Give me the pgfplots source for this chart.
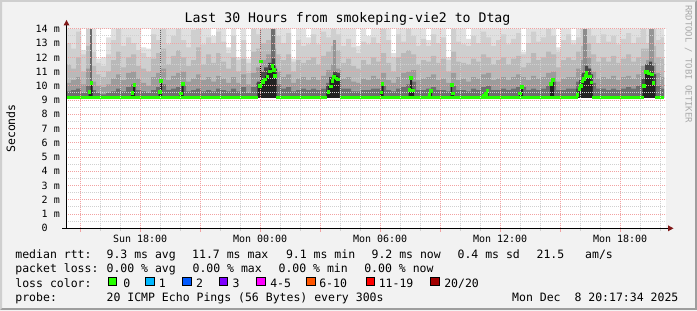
\documentclass[border=0pt]{standalone}
\usepackage{fontspec}
\usepackage{pgfplots}
\usepackage{pgfplotstable}
\pgfplotsset{compat=1.18}
\newfontfamily\monof{DejaVu Sans Mono}
\newcommand\fLeg{\monof\fontsize{11.5bp}{13bp}\selectfont}
\newcommand\fTick{\monof\fontsize{10bp}{12bp}\selectfont}
\newcommand\fTitle{\monof\fontsize{13.2bp}{15bp}\selectfont}
\newcommand\fSmall{\monof\fontsize{8.9bp}{10bp}\selectfont}

\definecolor{bgc}{RGB}{242,242,242}
\definecolor{shA}{RGB}{207,207,207}
\definecolor{shB}{RGB}{158,158,158}
\definecolor{mgrid}{RGB}{242,162,162}
\definecolor{mingrid}{RGB}{208,208,208}
\definecolor{s1}{RGB}{224,224,224}
\definecolor{s2}{RGB}{207,207,207}
\definecolor{s3}{RGB}{185,185,185}
\definecolor{s4}{RGB}{156,156,156}
\definecolor{s5}{RGB}{110,110,110}
\definecolor{halo}{RGB}{72,72,72}
\definecolor{core}{RGB}{34,34,34}
\definecolor{lgreen}{RGB}{38,255,0}
\definecolor{arrowc}{RGB}{128,24,24}
\definecolor{rrdc}{RGB}{170,170,170}
\definecolor{lc1}{RGB}{0,184,255}
\definecolor{lc2}{RGB}{0,89,255}
\definecolor{lc3}{RGB}{126,0,255}
\definecolor{lc4}{RGB}{255,0,255}
\definecolor{lc6}{RGB}{255,85,0}
\definecolor{lc11}{RGB}{255,0,0}
\definecolor{lc20}{RGB}{161,0,0}

\pgfplotstableread{
x t1 t2 t3 t4 t5
0.00 14 13.0 11.5 10.2 9.6
0.25 14 12.6 11.2 10.4 9.7
0.50 14 13.8 12.0 10.6 9.8
0.75 12.5 12.2 11.0 10.1 9.5
1.00 14 14 12.8 11.2 10.0
1.25 14 12.4 11.4 10.3 9.7
1.50 11.9 11.6 10.8 10.0 9.5
1.75 12.0 11.4 10.6 9.9 9.4
2.00 13.4 12.2 11.0 10.1 9.5
2.25 14 13.2 11.8 10.5 9.6
2.50 14 14 12.4 10.8 9.8
2.75 14 12.8 11.3 10.4 9.6
3.00 14 13.4 12.0 10.9 9.9
3.25 14 13.0 12.2 11.0 10.1
3.50 14 12.5 11.4 10.5 9.7
3.75 12.7 12.3 11.2 10.2 9.6
4.00 12.6 12.0 11.0 10.0 9.5
4.25 14 13.6 11.9 10.6 9.7
4.50 14 13.2 12.3 10.9 9.9
4.75 14 14 12.6 11.2 10.1
5.00 14 12.9 11.5 10.4 9.7
5.25 14 13.5 12.1 10.7 9.8
5.50 14 14 12.5 10.9 9.9
5.75 14 13.2 12.0 11.0 10.0
6.00 14 12.7 11.4 10.3 9.6
6.25 14 13.9 11.8 10.5 9.7
6.50 14 14 12.7 10.8 9.8
6.75 14 12.9 11.5 10.4 9.6
7.00 14 13.4 12.2 10.6 9.7
7.25 13.5 13.0 11.6 10.3 9.6
7.50 14 13.8 12.3 10.7 9.8
7.75 14 13.1 11.7 10.5 9.7
8.00 12.7 12.3 11.2 10.2 9.6
8.25 14 13.5 12.0 10.6 9.8
8.50 12.0 11.8 11.0 10.2 9.6
8.75 14 13.2 11.9 10.8 9.9
9.00 11.9 11.6 10.9 10.1 9.5
9.25 14 14 12.4 10.9 9.9
9.50 14 13.6 12.6 11.3 10.2
9.75 14 14 13.0 11.8 10.5
10.00 14 14 13.2 12.2 11.0
10.25 14 14 14 12.6 11.4
10.50 14 13.5 12.2 11.0 10.1
10.75 14 13.0 11.8 10.6 9.8
11.00 14 13.7 12.2 10.8 9.9
11.25 11.9 11.7 11.0 10.2 9.6
11.50 14 13.2 11.8 10.5 9.7
11.75 14 12.8 11.6 10.6 9.8
12.00 13.4 12.9 11.8 10.4 9.7
12.25 14 13.6 12.0 10.6 9.8
12.50 14 12.9 11.5 10.4 9.7
12.75 14 13.8 12.1 10.7 9.8
13.00 14 13.4 12.4 11.1 10.2
13.25 14 14 12.8 11.5 10.6
13.50 14 13.6 12.5 11.2 10.4
13.75 14 12.8 11.6 10.5 9.8
14.00 14 13.3 11.9 10.6 9.8
14.25 14 12.7 11.4 10.3 9.6
14.50 12.8 12.3 11.2 10.2 9.6
14.75 14 13.1 11.8 10.5 9.7
15.00 13.5 12.9 11.5 10.4 9.7
15.25 14 13.4 12.0 10.7 9.8
15.50 14 13.0 11.7 10.5 9.8
15.75 14 14 12.3 10.9 10.0
16.00 14 13.2 11.6 10.4 9.7
16.25 12.3 12.0 11.0 10.2 9.6
16.50 14 13.6 12.0 10.6 9.8
16.75 14 13.1 12.3 10.9 9.9
17.00 14 14 12.5 11.0 10.1
17.25 14 13.5 12.2 11.1 10.3
17.50 14 12.8 11.5 10.4 9.7
17.75 14 13.3 11.8 10.5 9.7
18.00 13.2 12.8 11.7 10.6 9.8
18.25 14 13.6 12.1 10.8 9.9
18.50 14 13.0 11.6 10.4 9.7
18.75 14 13.4 11.9 10.5 9.7
19.00 12.0 11.8 11.0 10.2 9.6
19.25 14 14 12.4 10.9 10.0
19.50 14 13.1 11.7 10.4 9.7
19.75 14 12.9 11.6 10.5 9.7
20.00 13.3 12.8 11.5 10.3 9.6
20.25 14 13.5 11.9 10.6 9.8
20.50 14 13.0 11.7 10.5 9.7
20.75 14 13.8 12.2 10.8 9.9
21.00 14 13.4 12.0 10.9 10.0
21.25 14 12.8 11.5 10.4 9.7
21.50 14 13.2 11.8 10.5 9.7
21.75 14 13.6 12.0 10.6 9.8
22.00 14 12.9 11.5 10.4 9.7
22.25 14 13.3 11.9 10.6 9.8
22.50 14 13.7 12.1 10.8 9.9
22.75 12.4 12.2 11.3 10.6 9.9
23.00 14 13.0 11.6 10.4 9.7
23.25 14 13.8 12.3 10.7 9.8
23.50 14 13.1 11.8 10.5 9.7
23.75 14 13.4 12.0 10.6 9.8
24.00 14 14 12.4 10.9 10.0
24.25 14 13.5 12.2 11.0 10.3
24.50 12.7 12.4 11.3 10.3 9.7
24.75 14 13.2 11.8 10.5 9.7
25.00 14 13.6 12.0 10.6 9.8
25.25 13.2 12.9 11.8 10.6 9.8
25.50 14 13.4 12.4 11.2 10.3
25.75 14 14 12.8 11.8 10.8
26.00 14 14 13.0 12.0 11.2
26.25 14 13.5 12.2 11.0 10.2
26.50 14 13.0 11.7 10.5 9.8
26.75 14 13.6 12.0 10.6 9.8
27.00 14 13.1 11.7 10.5 9.7
27.25 14 13.5 12.1 10.7 9.8
27.50 14 12.9 11.6 10.4 9.7
27.75 14 13.3 11.9 10.6 9.8
28.00 14 13.7 12.2 10.7 9.9
28.25 14 13.0 11.7 10.5 9.8
28.50 14 13.4 12.0 10.8 10.0
28.75 14 14 12.6 11.4 10.5
29.00 14 13.0 12.6 11.8 11.0
29.25 14 14 12.8 11.6 10.8
29.50 14 13.2 12.0 10.9 10.0
29.75 14 13.4 11.9 10.6 9.8
29.90 14 13.4 11.9 10.6 9.8
}\smoke

\pgfplotstableread{
x y
0 9.0
9.55 10.3
9.7 11.0
9.9 11.3
10.1 11.6
10.3 11.9
10.45 11.2
10.55 9.0
13.0 10.0
13.15 10.6
13.35 11.0
13.55 10.9
13.7 9.0
25.5 9.8
25.65 10.4
25.8 10.9
25.95 11.4
26.1 11.2
26.25 10.8
26.35 9.0
28.8 10.5
28.95 11.5
29.15 11.7
29.3 11.4
29.4 10.8
29.5 9.0
29.9 9.0
}\halo

\pgfplotstableread{
x y
0 9.0
1.125 9.7
1.225 10.3
1.325 9.0
3.25 9.6
3.35 10.1
3.45 9.0
4.625 9.6
4.7 10.4
4.8 9.0
5.675 9.5
5.775 10.2
5.875 9.0
9.6 10.0
9.75 10.4
9.85 10.5
9.95 10.7
10.05 10.9
10.15 11.2
10.25 11.5
10.35 11.5
10.425 10.9
10.5 9.0
13.025 9.7
13.1 10.0
13.2 10.4
13.3 10.6
13.4 10.8
13.5 10.7
13.6 10.55
13.675 9.0
15.7 9.6
15.775 10.2
15.875 9.0
17.125 9.8
17.2 10.65
17.3 9.8
17.4 9.0
18.125 9.45
18.2 9.75
18.3 9.0
19.225 10.15
19.3 9.55
19.4 9.0
20.8 9.35
20.925 9.5
21.025 9.75
21.125 9.0
22.65 9.55
22.75 10.0
22.85 9.0
24.2 10.2
24.3 10.5
24.4 9.0
25.525 9.4
25.625 9.85
25.7 10.1
25.775 10.4
25.85 10.6
25.925 10.8
26.0 11.0
26.075 10.75
26.175 10.75
26.25 10.35
26.325 9.0
28.85 10.1
28.95 11.0
29.05 11.1
29.125 10.95
29.2 10.95
29.275 10.9
29.35 10.35
29.45 9.0
29.9 9.0
}\core

\begin{document}
\begin{tikzpicture}
\begin{scope}[x=1bp,y=1bp]
\useasboundingbox (0,0) rectangle (697,310);
\fill[bgc] (0,0) rectangle (697,310);
\fill[shA] (0,0) -- (0,310) -- (697,310) -- (695,308) -- (2,308) -- (2,2) -- cycle;
\fill[shB] (0,0) -- (697,0) -- (697,310) -- (695,308) -- (695,2) -- (2,2) -- cycle;
\fill[white] (66,81.7) rectangle (666,281.2);
\end{scope}

\begin{axis}[
  at={(66bp,81.7bp)}, anchor=south west,
  scale only axis, width=600bp, height=199.5bp,
  xmin=0, xmax=30, ymin=0, ymax=14,
  axis line style={draw=none},
  axis on top,
  major tick length=0pt, minor tick length=0pt,
  xtick={0.7072,3.7072,6.7072,9.7072,12.7072,15.7072,18.7072,21.7072,24.7072,27.7072},
  xticklabels={,Sun 18:00,,Mon 00:00,,Mon 06:00,,Mon 12:00,,Mon 18:00},
  minor xtick={1.7072,2.7072,4.7072,5.7072,7.7072,8.7072,10.7072,11.7072,13.7072,14.7072,16.7072,17.7072,19.7072,20.7072,22.7072,23.7072,25.7072,26.7072,28.7072,29.7072},
  ytick={0,1,2,3,4,5,6,7,8,9,10,11,12,13,14},
  yticklabels={0\hphantom{mm},1 m,2 m,3 m,4 m,5 m,6 m,7 m,8 m,9 m,10 m,11 m,12 m,13 m,14 m},
  minor ytick={0.5,1.5,2.5,3.5,4.5,5.5,6.5,7.5,8.5,9.5,10.5,11.5,12.5,13.5},
  grid=both,
  major grid style={color=mgrid, dash pattern=on 1bp off 1bp, line width=0.9bp},
  minor grid style={color=mingrid, dash pattern=on 1bp off 1bp, line width=0.9bp},
  xticklabel style={font=\fTick, anchor=north, inner sep=0pt, yshift=-6.7bp},
  yticklabel style={font=\fTick, anchor=east, inner sep=0pt, xshift=-6bp},
]
\addplot[fill=s1, draw=none, const plot mark left] table[x=x,y=t1] {\smoke} \closedcycle;
\addplot[fill=s2, draw=none, const plot mark left] table[x=x,y=t2] {\smoke} \closedcycle;
\addplot[fill=s3, draw=none, const plot mark left] table[x=x,y=t3] {\smoke} \closedcycle;
\addplot[fill=s4, draw=none, const plot mark left] table[x=x,y=t4] {\smoke} \closedcycle;
\addplot[fill=s5, draw=none, const plot mark left] table[x=x,y=t5] {\smoke} \closedcycle;
\addplot[ycomb, color={rgb,255:red,106;green,106;blue,106}, line width=2bp] coordinates {(1.225,14)};
\addplot[ycomb, color={rgb,255:red,90;green,90;blue,90}, line width=1.2bp] coordinates {(4.735,14)};
\addplot[ycomb, color={rgb,255:red,112;green,112;blue,112}, line width=1.5bp] coordinates {(9.725,14)};
\addplot[ycomb, color={rgb,255:red,110;green,110;blue,110}, line width=4bp] coordinates {(10.325,14)};
\addplot[ycomb, color={rgb,255:red,150;green,150;blue,150}, line width=3bp] coordinates {(13.4,13.2)};
\addplot[ycomb, color={rgb,255:red,140;green,140;blue,140}, line width=4bp] coordinates {(25.925,14)};
\addplot[ycomb, color={rgb,255:red,150;green,150;blue,150}, line width=5bp] coordinates {(29.25,14)};
\addplot[fill=halo, draw=none, const plot mark left] table[x=x,y=y] {\halo} \closedcycle;
\addplot[fill=core, draw=none, const plot mark left] table[x=x,y=y] {\core} \closedcycle;
\addplot[fill=white, draw=none] coordinates {(0,9.12) (30,9.12)} \closedcycle;
\addplot[lgreen, line width=3bp, unbounded coords=jump] coordinates {
(0,9.2) (9.6,9.2) (9.7,nan) (10.5,9.2) (13.05,9.2) (13.1,nan) (13.7,9.2) (25.6,9.2) (25.7,nan)
(26.3,9.2) (28.9,9.2) (29.0,nan) (29.45,9.2) (29.9,9.2)};
\addplot[black, line width=0.9bp, dash pattern=on 1bp off 1bp] coordinates {(9.735,9.95) (9.735,11.7)};
\addplot[only marks, color=lgreen, mark=square*, mark size=1.3bp, mark options={draw=lgreen, fill=lgreen, line width=0pt}] coordinates {
(1.165,9.58) (1.275,10.2)
(3.315,9.5) (3.425,10.06)
(4.685,9.56) (4.75,10.32)
(5.75,9.47) (5.835,10.12)
(9.685,9.97) (9.75,11.7) (9.85,10.27) (9.96,10.45) (10.075,10.65) (10.21,11.0) (10.315,11.38) (10.385,11.12) (10.46,10.67)
(13.115,9.56) (13.235,9.94) (13.325,10.33) (13.41,10.62) (13.525,10.5) (13.61,10.43)
(15.77,9.54) (15.83,10.12)
(17.175,9.71) (17.26,10.56) (17.345,9.66)
(18.175,9.35) (18.26,9.63)
(19.285,10.06) (19.34,9.47)
(20.9,9.3) (20.985,9.42) (21.065,9.66)
(22.7,9.47) (22.79,9.9)
(24.26,10.12) (24.335,10.41)
(25.565,9.35) (25.665,9.77) (25.74,10.0) (25.815,10.3) (25.885,10.48) (25.965,10.71) (26.025,10.9) (26.11,10.64) (26.2,10.64) (26.265,10.24)
(28.91,10.0) (29.0,10.95) (29.065,11.0) (29.16,10.85) (29.285,10.8) (29.375,10.2)
};
\end{axis}

\begin{scope}[x=1bp,y=1bp]
\draw[black, line width=1bp] (62,81.7) -- (669,81.7);
\fill[arrowc] (668,84.7) -- (673.5,81.7) -- (668,78.7) -- cycle;
\draw[black, line width=1bp] (66.5,81.7) -- (66.5,285.5);
\fill[arrowc] (63.5,284.5) -- (66.5,290) -- (69.5,284.5) -- cycle;
\foreach \p in {80.14,140.14,200.14,260.14,320.14,380.14,440.14,500.14,560.14,620.14}
  \draw[mgrid, line width=1bp] (\p,81.2) -- (\p,78.5);
\foreach \p in {100.14,120.14,160.14,180.14,220.14,240.14,280.14,300.14,340.14,360.14,400.14,420.14,460.14,480.14,520.14,540.14,580.14,600.14,640.14,660.14}
  \draw[mingrid, line width=1bp] (\p,81.2) -- (\p,79.5);

\node[font=\fTitle, anchor=base, inner sep=0] at (347.5,287.4) {Last 30 Hours from smokeping-vie2 to Dtag};
\node[font=\fLeg, rotate=90, anchor=base, inner sep=0] at (15,181.5) {Seconds};
\node[font=\fSmall, text=rrdc, rotate=-90, anchor=base, inner sep=0] at (685.5,246) {RRDTOOL / TOBI OETIKER};

\begin{scope}[every node/.style={font=\fLeg, anchor=base west, inner sep=0}]
\node at (15.2,51.3) {median rtt:};
\node at (106.4,51.3) {9.3 ms avg};
\node at (192.0,51.3) {11.7 ms max};
\node at (285.8,51.3) {9.1 ms min};
\node at (371.4,51.3) {9.2 ms now};
\node at (457.4,51.3) {0.4 ms sd};
\node at (536.4,51.3) {21.5};
\node at (585.0,51.3) {am/s};
\node at (15.2,37.3) {packet loss:};
\node at (106.4,37.3) {0.00 \% avg};
\node at (192.4,37.3) {0.00 \% max};
\node at (278.4,37.3) {0.00 \% min};
\node at (364.1,37.3) {0.00 \% now};
\node at (15.2,23) {loss color:};
\node at (123.1,23) {0};
\node at (158.6,23) {1};
\node at (195.8,23) {2};
\node at (232.4,23) {3};
\node at (270.1,23) {4-5};
\node at (319.1,23) {6-10};
\node at (378.6,23) {11-19};
\node at (444.1,23) {20/20};
\node at (15.2,9) {probe:};
\node at (106.4,9) {20 ICMP Echo Pings (56 Bytes) every 300s};
\node at (512.0,9) {Mon Dec\ \ 8 20:17:34 2025};
\end{scope}
\foreach \bx/\bc in {108.3/lgreen,145.7/lc1,182.7/lc2,219.3/lc3,256.7/lc4,306.7/lc6,366/lc11,430.7/lc20}
  \draw[fill=\bc, draw=black, line width=0.8bp] (\bx,24.5) rectangle ++(8.5,8.5);
\end{scope}
\end{tikzpicture}
\end{document}
